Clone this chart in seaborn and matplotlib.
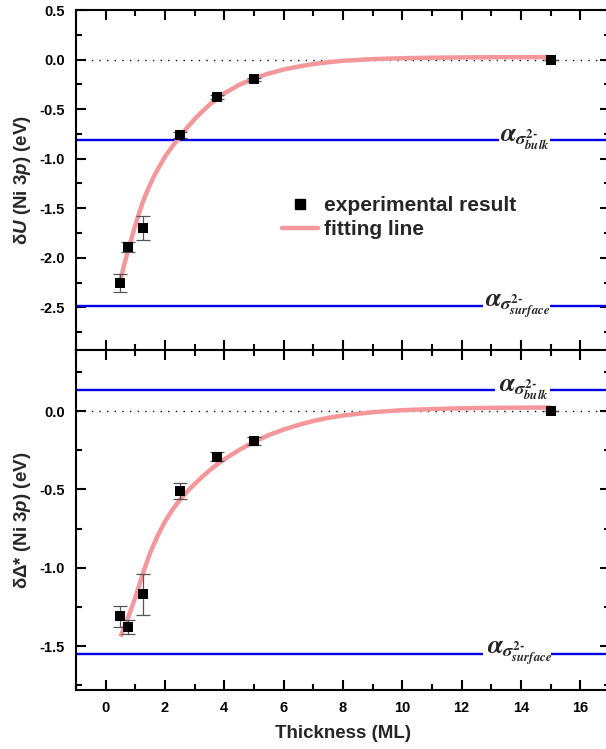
import numpy as np
import pandas as pd
import matplotlib
matplotlib.use("Agg")
import matplotlib.pyplot as plt
import seaborn as sns
from matplotlib.lines import Line2D
from matplotlib.ticker import MultipleLocator, FormatStrFormatter

# ---------------- data ----------------
thickness = [0.5, 0.75, 1.25, 2.5, 3.75, 5.0, 15.0]
dU = [-2.25, -1.89, -1.70, -0.76, -0.38, -0.196, 0.0]
dU_err = [0.09, 0.05, 0.12, 0.03, 0.02, 0.015, 0.0]
dDelta = [-1.31, -1.38, -1.17, -0.51, -0.29, -0.19, 0.0]
dDelta_err = [0.065, 0.045, 0.13, 0.05, 0.03, 0.027, 0.0]

fit_x = [0.5, 0.625, 0.75, 0.875, 1.0, 1.125, 1.25, 1.375, 1.5, 1.625, 1.75,
         1.875, 2.0, 2.25, 2.5, 2.75, 3.0, 3.25, 3.5, 3.75, 4.0, 4.5, 5.0,
         5.5, 6.0, 6.5, 7.0, 7.5, 8.0, 9.0, 10.0, 11.0, 12.0, 13.0, 15.0]
fit_dU = [-2.22, -2.07, -1.93, -1.80, -1.67, -1.55, -1.44, -1.345, -1.26,
          -1.18, -1.11, -1.045, -0.98, -0.875, -0.78, -0.685, -0.60, -0.525,
          -0.455, -0.395, -0.34, -0.255, -0.19, -0.14, -0.10, -0.07, -0.045,
          -0.027, -0.012, 0.005, 0.014, 0.019, 0.022, 0.024, 0.025]
fit_dDelta = [-1.44, -1.38, -1.32, -1.255, -1.19, -1.115, -1.04, -0.97,
              -0.905, -0.85, -0.797, -0.75, -0.705, -0.63, -0.567, -0.513,
              -0.465, -0.42, -0.379, -0.341, -0.307, -0.248, -0.196, -0.153,
              -0.118, -0.088, -0.063, -0.043, -0.028, -0.007, 0.006, 0.013,
              0.018, 0.021, 0.023]

alpha_bulk_U = -0.81
alpha_surface_U = -2.49
alpha_bulk_D = 0.135
alpha_surface_D = -1.55

legend_labels = ["experimental result", "fitting line"]
label_bulk = r"$\alpha_{\sigma^{2\text{-}}_{bulk}}$"
label_surface = r"$\alpha_{\sigma^{2\text{-}}_{surface}}$"

df = pd.DataFrame({"thickness": thickness, "dU": dU, "dU_err": dU_err,
                   "dDelta": dDelta, "dDelta_err": dDelta_err})
fit_df = pd.DataFrame({"x": fit_x, "dU": fit_dU, "dDelta": fit_dDelta})

# ---------------- style ----------------
sns.set_style("ticks")
plt.rcParams["font.family"] = ["Liberation Sans", "DejaVu Sans"]
plt.rcParams["font.weight"] = "bold"
plt.rcParams["mathtext.fontset"] = "custom"
plt.rcParams["mathtext.rm"] = "Liberation Sans:bold"
plt.rcParams["mathtext.it"] = "Liberation Sans:italic:bold"
plt.rcParams["mathtext.bf"] = "Liberation Sans:bold"
plt.rcParams["axes.unicode_minus"] = False

PINK = "#F4979B"
BLUE = "#0000EE"

fig = plt.figure(figsize=(6.06, 7.49), dpi=100)
ax1 = fig.add_axes([0.1254, 0.5327, 0.8812, 0.4539])
ax2 = fig.add_axes([0.1254, 0.0788, 0.8812, 0.4539])


def style_axis(ax):
    for sp in ax.spines.values():
        sp.set_linewidth(1.5)
        sp.set_color("black")
    ax.tick_params(which="both", direction="in", top=True, right=True,
                   width=1.5, colors="black", labelsize=10.5, pad=8)
    ax.tick_params(which="major", length=7)
    ax.tick_params(which="minor", length=4)
    ax.xaxis.set_major_locator(MultipleLocator(2))
    ax.xaxis.set_minor_locator(MultipleLocator(1))
    ax.set_xlim(-1, 17)


def blue_line(ax, y, gap, text, tx):
    ax.hlines(y, -1, gap[0], color=BLUE, lw=1.7, zorder=2)
    ax.hlines(y, gap[1], 17, color=BLUE, lw=1.7, zorder=2)
    ax.text(tx, y, text, ha="center", va="center", fontsize=19,
            fontweight="normal", math_fontfamily="stix", zorder=6)


def panel(ax, col, errcol, fitcol):
    ax.axhline(0, color="black", ls=(0, (1, 4.5)), lw=1, zorder=1)
    sns.lineplot(data=fit_df, x="x", y=fitcol, color=PINK, lw=3.2, ax=ax,
                 zorder=3, solid_capstyle="butt", solid_joinstyle="round")
    ax.errorbar(df["thickness"], df[col], yerr=df[errcol], fmt="none",
                ecolor="#555555", elinewidth=0.9, capsize=5, capthick=0.9,
                zorder=4)
    sns.scatterplot(data=df, x="thickness", y=col, marker="s", s=42,
                    color="black", linewidth=0, ax=ax, zorder=5, legend=False)


# ---------------- top panel ----------------
panel(ax1, "dU", "dU_err", "dU")
blue_line(ax1, alpha_bulk_U, (13.27, 14.98), label_bulk, 14.15)
blue_line(ax1, alpha_surface_U, (12.73, 14.98), label_surface, 13.9)
style_axis(ax1)
ax1.set_ylim(-2.93, 0.5)
ax1.yaxis.set_major_locator(MultipleLocator(0.5))
ax1.yaxis.set_minor_locator(MultipleLocator(0.25))
ax1.yaxis.set_major_formatter(FormatStrFormatter("%.1f"))
ax1.tick_params(labelbottom=False)
ax1.set_xlabel("")
ax1.set_ylabel("δ$\\mathit{U}$ (Ni 3$\\mathit{p}$) (eV)", fontsize=13.5,
               fontweight="bold")
ax1.yaxis.set_label_coords(-0.081, 0.5)

handles = [Line2D([], [], marker="s", ls="none", color="black", markersize=7),
           Line2D([], [], color=PINK, lw=3.2)]
ax1.legend(handles, legend_labels, loc="center left",
           bbox_to_anchor=(0.367, 0.39), frameon=False, borderpad=0,
           handlelength=1.7, handletextpad=0.3, labelspacing=0.25,
           prop={"size": 15, "weight": "bold"})

# ---------------- bottom panel ----------------
panel(ax2, "dDelta", "dDelta_err", "dDelta")
blue_line(ax2, alpha_bulk_D, (13.14, 14.98), label_bulk, 14.1)
blue_line(ax2, alpha_surface_D, (12.73, 15.0), label_surface, 13.94)
style_axis(ax2)
ax2.set_ylim(-1.78, 0.39)
ax2.yaxis.set_major_locator(MultipleLocator(0.5))
ax2.yaxis.set_minor_locator(MultipleLocator(0.25))
ax2.yaxis.set_major_formatter(FormatStrFormatter("%.1f"))
ax2.set_xlabel("Thickness (ML)", fontsize=13.5, fontweight="bold")
ax2.xaxis.set_label_coords(0.5, -0.103)
ax2.set_ylabel("δΔ* (Ni $\\mathit{3p}$) (eV)", fontsize=13.5,
               fontweight="bold")
ax2.yaxis.set_label_coords(-0.081, 0.5)

for ax in (ax1, ax2):
    for lab in ax.get_xticklabels() + ax.get_yticklabels():
        lab.set_fontweight("bold")

fig.savefig("out.png", dpi=100)
